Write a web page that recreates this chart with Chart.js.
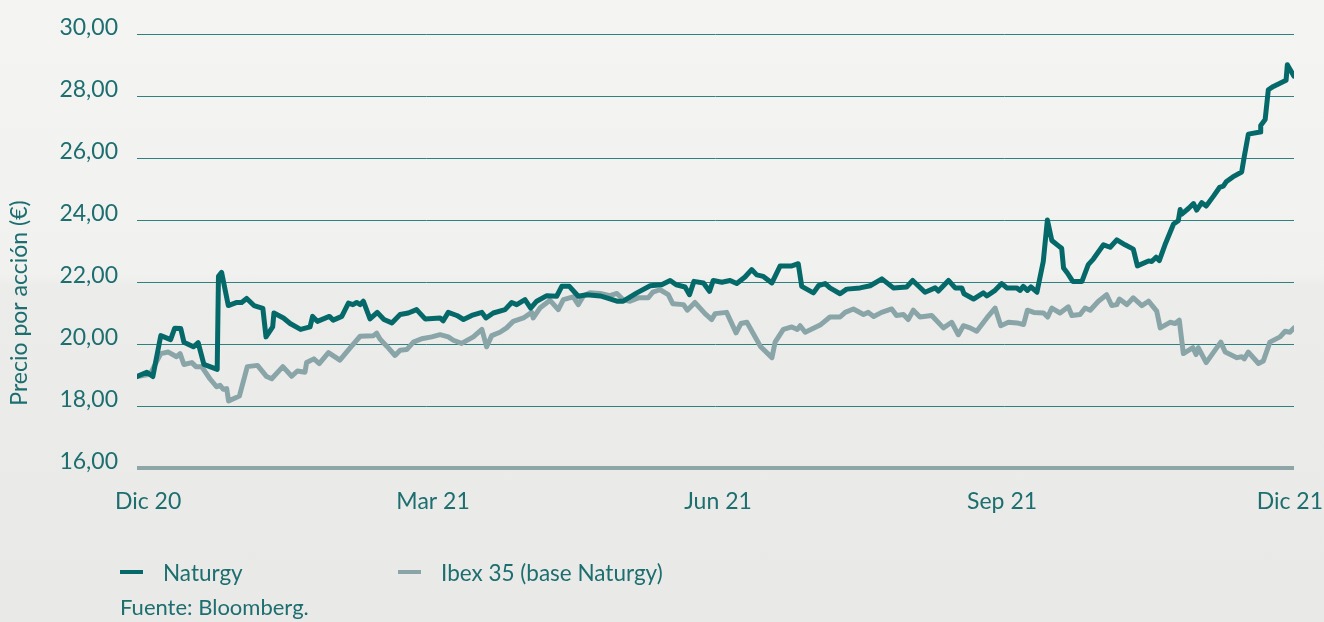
<!DOCTYPE html>
<html>
<head>
<meta charset="utf-8">
<script src="https://cdn.jsdelivr.net/npm/chart.js@4/dist/chart.umd.min.js"></script>
<style>
  html, body { margin: 0; padding: 0; }
  body {
    width: 1324px; height: 622px; overflow: hidden; position: relative;
    background: linear-gradient(to bottom, #f4f4f3 0%, #f1f1f0 44%, #ececeb 46%, #e9e9e8 100%);
    font-family: Lato, "Open Sans", sans-serif; color: #1d6e6f;
  }
  #c { position: absolute; left: 0; top: 0; }
  .leg { position: absolute; top: 559px; height: 26px; display: flex; align-items: center; font-size: 22.5px; }
  .leg .sw { width: 23px; height: 4px; margin-right: 20px; }
  #src { position: absolute; left: 120px; top: 594px; font-size: 22px; line-height: 26px; }
</style>
</head>
<body>
<canvas id="c" width="1324" height="622"></canvas>
<div id="legend"></div>
<div id="src">Fuente: Bloomberg.</div>
<script>
// ---- data (x = days since start of series, y = price in €) ----
const seriesNames = ["Naturgy", "Ibex 35 (base Naturgy)"];
const seriesColors = ["#05696a", "#8aa5a8"];

const naturgyDays = [0,3.1,5.0,7.5,10.6,11.9,13.8,14.8,17.8,19.3,
21.1,25.3,25.7,26.7,28.8,31.5,33.0,34.6,36.9,39.7,
40.7,42.8,43.2,46.2,48.3,51.6,54.6,55.4,56.9,60.7,
61.9,64.6,66.7,68.1,69.3,70.4,71.4,73.5,75.8,77.9,
80.4,83.0,85.6,88.2,90.9,95.6,96.6,98.2,100.9,103.0,
105.6,108.8,110.1,112.4,116.1,118.2,119.8,122.4,124.2,126.1,
129.3,132.4,134.0,136.4,139.2,141.9,146.1,148.2,151.4,153.4,
157.7,161.9,165.5,168.2,170.1,172.9,174.3,175.7,178.7,180.6,
181.8,184.5,187.1,189.2,191.8,193.9,195.5,197.6,200.3,202.9,
206.6,208.6,209.7,213.4,215.0,217.1,218.6,221.8,223.9,228.1,
231.3,235.0,238.6,242.8,244.7,248.6,251.8,252.8,256.0,258.1,
260.2,260.9,263.9,267.0,268.1,270.7,272.8,274.4,277.5,278.6,
279.6,280.9,282.0,283.9,285.9,287.2,288.6,291.0,291.7,292.3,
293.5,295.2,298.1,300.1,301.7,304.9,307.0,309.1,311.7,314.3,
315.6,319.1,320.1,321.5,322.5,324.3,327.0,328.5,329.1,329.6,
331.7,333.3,334.3,335.9,337.3,339.6,341.5,342.7,343.6,345.7,
348.5,349.3,350.6,354.3,354.5,355.9,356.9,358.5,362.5,362.9,
365];
const naturgyValues = [18.95,19.09,18.95,20.27,20.14,20.51,20.50,20.06,19.91,20.04,
19.34,19.18,22.18,22.31,21.24,21.34,21.34,21.47,21.24,21.15,
20.23,20.55,21.00,20.84,20.66,20.47,20.55,20.89,20.73,20.89,
20.77,20.89,21.32,21.27,21.34,21.27,21.38,20.81,21.02,20.79,
20.68,20.95,21.00,21.11,20.81,20.84,20.75,21.02,20.92,20.79,
20.92,21.02,20.84,21.00,21.11,21.34,21.27,21.43,21.16,21.38,
21.56,21.54,21.86,21.86,21.54,21.59,21.55,21.49,21.38,21.38,
21.65,21.88,21.91,22.05,21.91,21.84,21.59,22.02,21.97,21.70,
22.05,21.99,22.05,21.95,22.16,22.40,22.23,22.18,21.97,22.52,
22.52,22.59,21.86,21.65,21.88,21.95,21.81,21.62,21.77,21.81,
21.88,22.10,21.81,21.84,22.05,21.67,21.81,21.71,22.05,21.81,
21.81,21.62,21.45,21.65,21.55,21.73,21.95,21.81,21.81,21.73,
21.86,21.73,21.84,21.67,22.66,24.00,23.34,23.14,23.09,22.45,
22.29,22.02,22.02,22.56,22.74,23.20,23.12,23.36,23.20,23.06,
22.52,22.68,22.66,22.80,22.69,23.20,23.87,23.98,24.34,24.19,
24.37,24.53,24.32,24.56,24.45,24.77,25.05,25.09,25.23,25.39,
25.55,26.04,26.77,26.84,27.05,27.24,28.20,28.31,28.51,29.01,
28.64];

const ibexDays = [0,4.1,7.5,9.9,12.5,13.6,14.8,17.3,18.6,20.4,
23.0,25.1,26.2,27.2,28.3,28.9,32.3,34.8,38.0,40.9,
42.5,46.0,48.8,50.6,53.0,53.5,55.8,57.5,60.4,64.0,
67.7,70.4,74.6,75.6,76.7,78.8,81.4,83.0,85.1,87.2,
89.8,93.0,95.6,98.2,99.8,102.4,106.1,108.8,110.3,111.9,
114.5,116.6,118.7,121.9,124.5,125.0,127.1,130.3,132.9,134.5,
137.6,139.2,140.8,142.9,146.1,149.2,151.4,153.4,155.5,158.2,
161.3,162.7,165.0,167.6,169.0,172.4,173.6,176.0,179.2,181.3,
182.4,186.0,189.0,190.5,192.4,195.5,196.6,200.3,201.3,203.9,
206.6,208.3,209.2,210.8,215.5,218.6,221.8,223.4,226.0,229.2,
230.7,232.4,234.9,238.1,239.6,241.8,243.3,244.9,247.0,250.7,
254.4,257.0,259.1,260.7,262.8,264.9,268.1,270.7,272.5,274.9,
277.6,279.7,280.9,282.9,286.0,287.3,288.6,291.2,293.8,294.9,
297.5,299.1,300.7,303.3,305.9,307.5,309.1,309.9,312.3,314.3,
317.0,319.1,321.7,322.8,325.9,327.5,328.8,330.1,333.1,334.1,
334.8,337.3,341.9,343.3,347.0,348.5,349.3,350.6,353.8,355.3,
357.4,360.6,362.2,363.7,365];
const ibexValues = [18.95,19.02,19.69,19.74,19.59,19.69,19.34,19.40,19.27,19.27,
18.88,18.62,18.67,18.54,18.56,18.16,18.32,19.27,19.31,18.95,
18.88,19.27,18.96,19.13,19.09,19.40,19.52,19.37,19.72,19.48,
19.93,20.25,20.27,20.35,20.15,19.93,19.63,19.80,19.82,20.06,
20.17,20.23,20.30,20.23,20.12,20.02,20.23,20.47,19.91,20.27,
20.38,20.52,20.73,20.84,21.02,20.84,21.16,21.41,21.11,21.43,
21.52,21.27,21.54,21.65,21.63,21.56,21.63,21.43,21.38,21.49,
21.49,21.67,21.75,21.59,21.30,21.27,21.09,21.34,20.98,20.79,
20.98,21.02,20.36,20.66,20.70,20.14,19.93,19.56,20.06,20.47,
20.55,20.47,20.59,20.38,20.61,20.87,20.87,21.02,21.13,20.95,
21.02,20.89,21.02,21.13,20.92,20.95,20.79,21.09,20.87,20.92,
20.52,20.70,20.30,20.59,20.52,20.41,20.84,21.16,20.59,20.70,
20.68,20.63,21.09,21.02,21.00,20.87,21.16,21.00,21.20,20.92,
20.95,21.16,21.09,21.38,21.59,21.24,21.27,21.45,21.27,21.49,
21.24,21.38,21.06,20.52,20.70,20.66,20.77,19.69,19.88,19.66,
19.88,19.40,20.06,19.74,19.56,19.59,19.52,19.74,19.37,19.45,
20.06,20.23,20.41,20.38,20.52];

const xTickDays = [3.5, 93.4, 183.3, 272.9, 363.7];
const xTickLabels = ["Dic 20", "Mar 21", "Jun 21", "Sep 21", "Dic 21"];
const yTickValues = [16, 18, 20, 22, 24, 26, 28, 30];
const yTitle = "Precio por acción (€)";

// ---- chart ----
const TEXT = "#1d6e6f";
const FONT = "Lato, 'Open Sans', sans-serif";

const toPoints = (xs, ys) => xs.map((x, i) => ({ x: x, y: ys[i] }));

const yTitlePlugin = {
  id: "yTitle",
  afterDraw(chart) {
    const ctx = chart.ctx;
    ctx.save();
    ctx.translate(20, 303);
    ctx.rotate(-Math.PI / 2);
    ctx.fillStyle = TEXT;
    ctx.font = "23px " + FONT;
    ctx.textAlign = "center";
    ctx.textBaseline = "middle";
    ctx.fillText(yTitle, 0, 0);
    ctx.restore();
  }
};

const chart = new Chart(document.getElementById("c"), {
  type: "line",
  data: {
    datasets: [
      { label: seriesNames[0], data: toPoints(naturgyDays, naturgyValues), borderColor: seriesColors[0], borderWidth: 5 },
      { label: seriesNames[1], data: toPoints(ibexDays, ibexValues), borderColor: seriesColors[1], borderWidth: 5 }
    ]
  },
  options: {
    responsive: false,
    animation: false,
    devicePixelRatio: 1,
    layout: { padding: { left: 0, right: 30, top: 34, bottom: 104 } },
    elements: {
      point: { radius: 0 },
      line: { tension: 0, borderJoinStyle: "round", borderCapStyle: "round", fill: false }
    },
    plugins: { legend: { display: false }, tooltip: { enabled: false }, title: { display: false } },
    scales: {
      x: {
        type: "linear", min: 0, max: 365,
        afterBuildTicks: (s) => { s.ticks = xTickDays.map(v => ({ value: v })); },
        afterFit: (s) => { s.height = 50; s.paddingLeft = 0; s.paddingRight = 0; },
        grid: { display: false, drawTicks: false },
        border: { display: false },
        ticks: {
          autoSkip: false, maxRotation: 0, padding: 20,
          color: TEXT, font: { family: FONT, size: 23 },
          callback: (v) => { const i = xTickDays.indexOf(v); return i >= 0 ? xTickLabels[i] : ""; }
        }
      },
      y: {
        min: 16, max: 30,
        afterBuildTicks: (s) => { s.ticks = yTickValues.map(v => ({ value: v })); },
        afterFit: (s) => { s.width = 137; s.paddingTop = 0; s.paddingBottom = 0; },
        border: { display: false },
        grid: {
          drawTicks: false,
          color: (c) => c.tick && c.tick.value === 16 ? "#8fa6a9" : "#2f8080",
          lineWidth: (c) => c.tick && c.tick.value === 16 ? 4 : 1
        },
        ticks: {
          padding: 19, labelOffset: -6,
          color: TEXT, font: { family: FONT, size: 23 },
          callback: (v) => v.toFixed(2).replace(".", ",")
        }
      }
    }
  },
  plugins: [yTitlePlugin]
});

// ---- HTML legend built from the datasets ----
const legendLefts = [120, 398];
const legend = document.getElementById("legend");
chart.data.datasets.forEach((ds, i) => {
  const item = document.createElement("div");
  item.className = "leg";
  item.style.left = legendLefts[i] + "px";
  const sw = document.createElement("span");
  sw.className = "sw";
  sw.style.background = ds.borderColor;
  const tx = document.createElement("span");
  tx.textContent = ds.label;
  item.appendChild(sw);
  item.appendChild(tx);
  legend.appendChild(item);
});
</script>
</body>
</html>
